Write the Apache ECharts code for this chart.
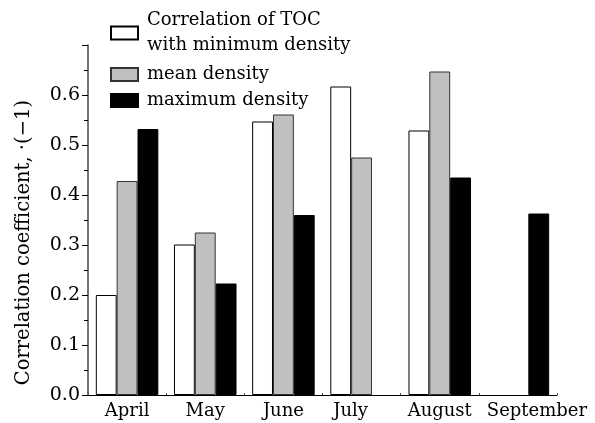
<!DOCTYPE html>
<html>
<head>
<meta charset="utf-8">
<script src="https://cdn.jsdelivr.net/npm/echarts@6/dist/echarts.min.js"></script>
<style>
  html, body { margin: 0; padding: 0; background: #fff; }
  #chart { width: 595px; height: 423px; }
</style>
</head>
<body>
<div id="chart"></div>
<script>
// data
const months = ['April', 'May', 'June', 'July', 'August', 'September']
const minDensity = [0.200, 0.301, 0.547, 0.617, 0.529, '-']
const meanDensity = [0.428, 0.325, 0.561, 0.475, 0.647, '-']
const maxDensity = [0.532, 0.223, 0.360, '-', 0.435, 0.363]
const seriesNames = ['Correlation of TOC\nwith minimum density', 'mean density', 'maximum density']

const font = '"DejaVu Serif", serif'

const chart = echarts.init(document.getElementById('chart'), null, {renderer: 'canvas'})

const legendText = {fontFamily: font, fontSize: 18, color: '#000', lineHeight: 25, padding: [0, 0, 0, 4]}

const makeLegend = (name, top) => {
  return {
    data: [{name: name, icon: 'rect'}],
    left: 110,
    top: top,
    padding: 0,
    itemWidth: 27,
    itemHeight: 13,
    textStyle: legendText,
    selectedMode: false
  }
}

// month labels in the figure are not all centred under their bars
const labelKey = {July: 'jul', September: 'sep'}

const option = {
  animation: false,
  grid: {left: 88, right: 38, top: 45, bottom: 28},
  legend: [
    makeLegend(seriesNames[0], 8),
    makeLegend(seriesNames[1], 62),
    makeLegend(seriesNames[2], 88)
  ],
  graphic: [{
    type: 'text',
    left: 14,
    top: 100,
    rotation: Math.PI / 2,
    style: {
      text: 'Correlation coefficient, ·(−1)',
      font: '19.5px "DejaVu Serif", serif',
      fill: '#000'
    }
  }],
  xAxis: {
    type: 'category',
    data: months,
    axisLine: {lineStyle: {color: '#000', width: 1}},
    axisTick: {show: true, inside: true, length: 2, lineStyle: {color: '#555'}},
    axisLabel: {
      fontFamily: font, fontSize: 18, color: '#000', margin: 7, interval: 0,
      formatter: v => labelKey[v] ? `{${labelKey[v]}|${v}}` : v,
      rich: {
        jul: {fontFamily: font, fontSize: 18, color: '#000', padding: [0, 22, 0, 0]},
        sep: {fontFamily: font, fontSize: 18, color: '#000', padding: [0, 0, 0, 38]}
      }
    }
  },
  yAxis: {
    type: 'value',
    min: 0,
    max: 0.7,
    interval: 0.1,
    splitLine: {show: false},
    axisLine: {show: true, lineStyle: {color: '#444', width: 1.5}},
    axisTick: {show: true, length: 6, lineStyle: {color: '#000'}},
    minorTick: {show: true, splitNumber: 2, length: 4, lineStyle: {color: '#000'}},
    axisLabel: {
      fontFamily: font, fontSize: 19, color: '#000', margin: 8,
      formatter: v => v > 0.65 ? '' : v.toFixed(1)
    }
  },
  series: [
    {
      name: seriesNames[0], type: 'bar', data: minDensity,
      barGap: '0%', barCategoryGap: '20%',
      itemStyle: {color: '#ffffff', borderColor: '#000', borderWidth: 1}
    },
    {
      name: seriesNames[1], type: 'bar', data: meanDensity,
      itemStyle: {color: '#c0c0c0', borderColor: '#333', borderWidth: 1}
    },
    {
      name: seriesNames[2], type: 'bar', data: maxDensity,
      itemStyle: {color: '#000000', borderColor: '#000', borderWidth: 1}
    }
  ]
}

chart.setOption(option)
</script>
</body>
</html>
